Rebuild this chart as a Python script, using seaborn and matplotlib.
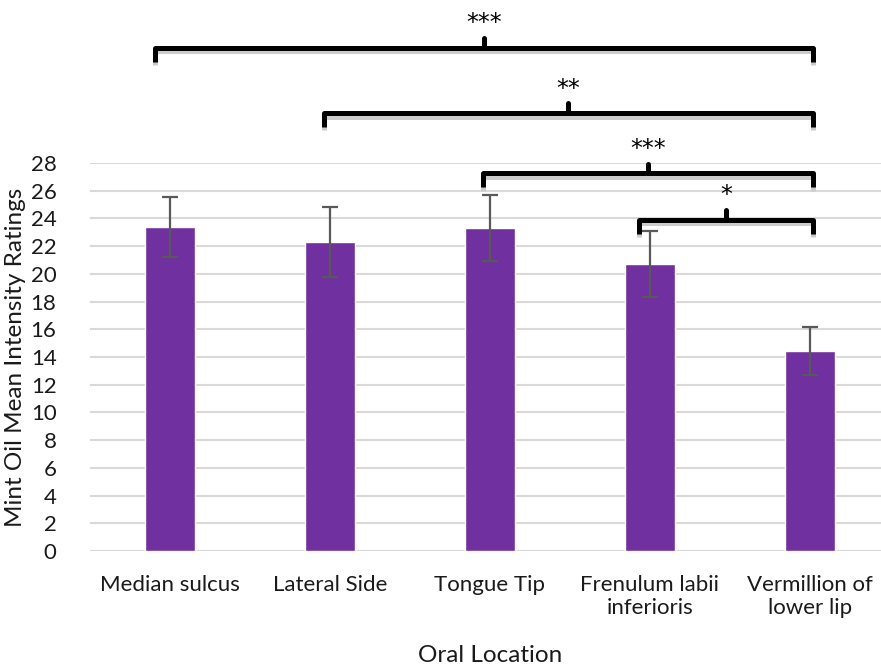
import matplotlib
matplotlib.use("Agg")
import matplotlib.pyplot as plt
import seaborn as sns
import pandas as pd
import numpy as np

# Mean intensity ratings per oral location, with error bar half-widths
locations = ["Median sulcus", "Lateral Side", "Tongue Tip",
             "Frenulum labii\ninferioris", "Vermillion of\nlower lip"]
means = [23.4, 22.3, 23.3, 20.7, 14.45]
errors = [2.15, 2.5, 2.4, 2.4, 1.75]
yticks = list(range(0, 29, 2))

# Significance brackets: (left x, right x, line level, label)
brackets = [
    (-0.094, 4.02, 36.3, "***"),
    (0.9625, 4.02, 31.6, "**"),
    (1.956, 4.02, 27.25, "***"),
    (2.93, 4.02, 23.9, "*"),
]

sns.set_theme(style="white")
plt.rcParams["font.family"] = ["Lato", "DejaVu Sans"]

fig = plt.figure(figsize=(8.81, 6.65), dpi=100)
ax = fig.add_axes([0.102, 0.1714, 0.898, 0.5835])

df = pd.DataFrame({"loc": locations, "mean": means})
sns.barplot(data=df, x="loc", y="mean", color="#7030A0", saturation=1,
            width=0.31, errorbar=None, ax=ax, zorder=3)
ax.errorbar(np.arange(len(means)), means, yerr=errors, fmt="none",
            ecolor="#595959", elinewidth=1.6, capsize=6, capthick=1.6, zorder=4)

ax.set_ylim(0, 28)
ax.set_xlim(-0.5, 4.445)
ax.set_yticks(yticks)
ax.set_yticklabels([str(t) for t in yticks], fontsize=16, color="#1a1a1a")
ax.tick_params(axis="x", labelsize=16, labelcolor="#1a1a1a", pad=17, length=0)
ax.tick_params(axis="y", pad=24, length=0)
for lab in ax.get_xticklabels():
    lab.set_multialignment("center")
ax.yaxis.grid(True, color="#d9d9d9", linewidth=1.5, zorder=0)
ax.set_axisbelow(True)
for s in ax.spines.values():
    s.set_visible(False)

ax.set_xlabel("Oral Location", fontsize=17.5, color="#1a1a1a", va="center")
ax.xaxis.set_label_coords(0.506, -0.268)
ax.set_ylabel("Mint Oil Mean Intensity Ratings", fontsize=17.5,
              color="#1a1a1a", labelpad=3)

# Brackets above the bars
drop = 1.0
tip = 0.7
for x0, x1, level, label in brackets:
    xm = (x0 + x1) / 2
    xs = [x0, x0, x1, x1]
    ys = [level - drop, level, level, level - drop]
    # soft shadow under the bracket
    ax.plot(xs, [y - 0.25 for y in ys], color="#cccccc", lw=3.6,
            solid_capstyle="butt", solid_joinstyle="round", clip_on=False, zorder=5)
    ax.plot(xs, ys, color="black", lw=3.6, solid_capstyle="butt",
            solid_joinstyle="round", clip_on=False, zorder=6)
    ax.plot([xm, xm], [level, level + tip], color="black", lw=3.6,
            solid_capstyle="round", clip_on=False, zorder=6)
    ax.text(xm, level + tip + 0.2, label, ha="center", va="bottom",
            fontsize=17, family="DejaVu Sans", color="black",
            clip_on=False, zorder=7)

fig.savefig("out.png", dpi=100)
